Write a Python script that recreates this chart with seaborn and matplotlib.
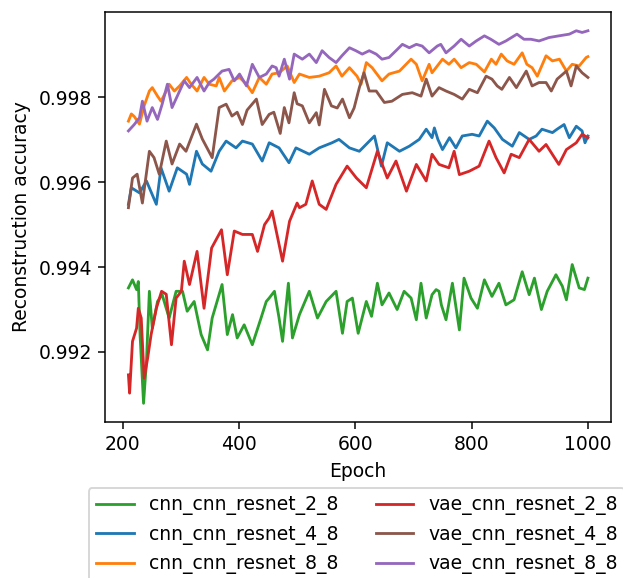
import matplotlib
matplotlib.use("Agg")
import matplotlib.pyplot as plt
import seaborn as sns
import pandas as pd

# values (smoothed reconstruction accuracy)
cnn_2_8_epoch = [210, 217, 224, 227, 230, 236, 241, 246, 251, 260, 268, 280, 292, 303, 311, 323,
                 335, 346, 354, 371, 380, 389, 397, 409, 423, 438, 447, 452, 461, 469, 475, 485,
                 492, 504, 521, 535, 550, 567, 578, 586, 595, 605, 619, 628, 638, 646, 658, 672,
                 684, 696, 705, 713, 722, 732, 739, 744, 748, 756, 767, 779, 787, 799, 810, 822,
                 835, 847, 859, 873, 887, 899, 908, 920, 930, 945, 956, 963, 973, 985, 994, 1000]
cnn_2_8_acc = [0.99351, 0.99370, 0.99347, 0.99366, 0.99241, 0.99079, 0.99178, 0.99343, 0.99256,
               0.99319, 0.99335, 0.99280, 0.99343, 0.99343, 0.99296, 0.99319, 0.99241, 0.99205,
               0.99280, 0.99359, 0.99241, 0.99288, 0.99233, 0.99264, 0.99217, 0.99280, 0.99319,
               0.99327, 0.99343, 0.99280, 0.99225, 0.99362, 0.99233, 0.99288, 0.99343, 0.99280,
               0.99319, 0.99343, 0.99244, 0.99319, 0.99327, 0.99244, 0.99319, 0.99284, 0.99362,
               0.99311, 0.99339, 0.99300, 0.99343, 0.99327, 0.99276, 0.99362, 0.99280, 0.99335,
               0.99347, 0.99343, 0.99311, 0.99276, 0.99362, 0.99252, 0.99374, 0.99327, 0.99303,
               0.99370, 0.99331, 0.99362, 0.99311, 0.99323, 0.99389, 0.99335, 0.99374, 0.99300,
               0.99343, 0.99382, 0.99355, 0.99323, 0.99406, 0.99351, 0.99347, 0.99374]

cnn_4_8_epoch = [210, 215, 229, 241, 258, 266, 280, 294, 310, 315, 327, 337, 352, 366, 378, 395,
                 406, 423, 440, 452, 469, 486, 498, 521, 538, 560, 572, 590, 607, 633, 645, 655,
                 676, 693, 710, 722, 732, 736, 742, 750, 762, 773, 784, 801, 813, 827, 839, 853,
                 870, 882, 899, 911, 921, 939, 947, 959, 968, 980, 990, 995, 1000]
cnn_4_8_acc = [0.99548, 0.99587, 0.99575, 0.99603, 0.99548, 0.99634, 0.99579, 0.99634, 0.99619,
               0.99595, 0.99673, 0.99643, 0.99626, 0.99673, 0.99697, 0.99681, 0.99697, 0.99690,
               0.99650, 0.99693, 0.99681, 0.99646, 0.99681, 0.99666, 0.99681, 0.99693, 0.99701,
               0.99681, 0.99673, 0.99709, 0.99638, 0.99693, 0.99673, 0.99685, 0.99701, 0.99725,
               0.99705, 0.99728, 0.99701, 0.99677, 0.99705, 0.99681, 0.99709, 0.99713, 0.99709,
               0.99744, 0.99728, 0.99701, 0.99685, 0.99717, 0.99701, 0.99709, 0.99725, 0.99717,
               0.99725, 0.99736, 0.99705, 0.99732, 0.99721, 0.99693, 0.99709]

cnn_8_8_epoch = [210, 215, 220, 229, 237, 246, 251, 260, 266, 275, 280, 289, 298, 310, 318, 328,
                 340, 349, 361, 366, 375, 388, 401, 413, 423, 435, 447, 457, 469, 483, 495, 504,
                 521, 538, 555, 567, 577, 590, 603, 610, 619, 629, 646, 658, 676, 696, 705, 715,
                 727, 732, 750, 761, 770, 782, 796, 808, 822, 834, 842, 851, 861, 873, 887, 895,
                 904, 913, 928, 939, 951, 963, 973, 985, 997, 1000]
cnn_8_8_acc = [0.99744, 0.99761, 0.99755, 0.99737, 0.99780, 0.99815, 0.99823, 0.99803, 0.99791,
               0.99815, 0.99831, 0.99815, 0.99827, 0.99847, 0.99831, 0.99815, 0.99847, 0.99831,
               0.99827, 0.99847, 0.99815, 0.99839, 0.99847, 0.99831, 0.99811, 0.99847, 0.99831,
               0.99855, 0.99858, 0.99874, 0.99835, 0.99855, 0.99847, 0.99850, 0.99858, 0.99874,
               0.99850, 0.99870, 0.99850, 0.99831, 0.99882, 0.99870, 0.99839, 0.99855, 0.99862,
               0.99890, 0.99878, 0.99839, 0.99878, 0.99858, 0.99890, 0.99878, 0.99890, 0.99870,
               0.99882, 0.99878, 0.99860, 0.99890, 0.99878, 0.99902, 0.99886, 0.99878, 0.99905,
               0.99878, 0.99870, 0.99850, 0.99898, 0.99886, 0.99890, 0.99862, 0.99878, 0.99874,
               0.99894, 0.99896]

vae_2_8_epoch = [210, 212, 217, 224, 227, 232, 237, 243, 249, 258, 267, 275, 284, 292, 301, 306,
                 315, 328, 340, 353, 370, 380, 392, 406, 423, 432, 444, 452, 457, 475, 487, 500,
                 504, 515, 526, 538, 550, 567, 586, 602, 619, 638, 655, 670, 688, 705, 722, 732,
                 744, 761, 770, 779, 796, 813, 830, 842, 856, 868, 882, 899, 916, 928, 950, 963,
                 980, 990, 1000]
vae_2_8_acc = [0.99146, 0.99103, 0.99225, 0.99256, 0.99303, 0.99280, 0.99138, 0.99185, 0.99241,
               0.99303, 0.99343, 0.99336, 0.99217, 0.99327, 0.99343, 0.99414, 0.99359, 0.99437,
               0.99303, 0.99445, 0.99488, 0.99382, 0.99485, 0.99477, 0.99477, 0.99437, 0.99500,
               0.99516, 0.99532, 0.99414, 0.99508, 0.99551, 0.99540, 0.99548, 0.99603, 0.99548,
               0.99536, 0.99595, 0.99638, 0.99610, 0.99587, 0.99673, 0.99610, 0.99650, 0.99579,
               0.99642, 0.99603, 0.99666, 0.99642, 0.99634, 0.99673, 0.99618, 0.99626, 0.99638,
               0.99697, 0.99658, 0.99622, 0.99666, 0.99658, 0.99701, 0.99673, 0.99689, 0.99642,
               0.99677, 0.99693, 0.99713, 0.99705]

vae_4_8_epoch = [210, 217, 225, 234, 246, 254, 263, 275, 285, 298, 309, 327, 337, 354, 366, 378,
                 388, 397, 406, 414, 430, 440, 448, 452, 460, 471, 478, 486, 495, 500, 509, 521,
                 533, 538, 547, 559, 569, 578, 590, 598, 607, 615, 624, 636, 650, 663, 681, 698,
                 713, 722, 732, 744, 756, 770, 784, 796, 810, 825, 835, 844, 852, 865, 877, 894,
                 904, 916, 928, 937, 947, 963, 971, 980, 990, 1000]
vae_4_8_acc = [0.99540, 0.99610, 0.99619, 0.99551, 0.99673, 0.99658, 0.99619, 0.99697, 0.99643,
               0.99690, 0.99673, 0.99737, 0.99702, 0.99658, 0.99776, 0.99784, 0.99756, 0.99765,
               0.99736, 0.99770, 0.99796, 0.99736, 0.99752, 0.99760, 0.99765, 0.99715, 0.99776,
               0.99740, 0.99811, 0.99785, 0.99780, 0.99740, 0.99764, 0.99735, 0.99819, 0.99780,
               0.99775, 0.99796, 0.99752, 0.99775, 0.99823, 0.99858, 0.99815, 0.99815, 0.99788,
               0.99791, 0.99807, 0.99811, 0.99803, 0.99843, 0.99803, 0.99823, 0.99815, 0.99807,
               0.99796, 0.99819, 0.99811, 0.99850, 0.99843, 0.99827, 0.99819, 0.99847, 0.99823,
               0.99862, 0.99827, 0.99835, 0.99835, 0.99815, 0.99843, 0.99862, 0.99827, 0.99874,
               0.99858, 0.99847]

vae_8_8_epoch = [210, 220, 229, 234, 242, 251, 260, 268, 277, 285, 298, 306, 315, 328, 340, 349,
                 357, 371, 383, 392, 401, 413, 423, 435, 447, 457, 464, 469, 478, 487, 495, 509,
                 521, 533, 543, 555, 567, 577, 590, 601, 612, 624, 636, 646, 658, 670, 681, 693,
                 705, 715, 727, 741, 747, 756, 770, 782, 796, 808, 822, 833, 847, 859, 878, 890,
                 902, 916, 933, 950, 968, 980, 990, 1000]
vae_8_8_acc = [0.99721, 0.99736, 0.99752, 0.99791, 0.99744, 0.99776, 0.99748, 0.99784, 0.99831,
               0.99776, 0.99815, 0.99839, 0.99823, 0.99847, 0.99815, 0.99835, 0.99843, 0.99862,
               0.99866, 0.99839, 0.99855, 0.99827, 0.99878, 0.99847, 0.99855, 0.99874, 0.99870,
               0.99850, 0.99890, 0.99843, 0.99902, 0.99890, 0.99902, 0.99882, 0.99910, 0.99894,
               0.99882, 0.99898, 0.99917, 0.99910, 0.99902, 0.99910, 0.99902, 0.99890, 0.99894,
               0.99910, 0.99925, 0.99917, 0.99925, 0.99921, 0.99905, 0.99921, 0.99925, 0.99905,
               0.99921, 0.99937, 0.99921, 0.99933, 0.99945, 0.99937, 0.99925, 0.99933, 0.99949,
               0.99937, 0.99937, 0.99933, 0.99941, 0.99945, 0.99949, 0.99957, 0.99953, 0.99957]

series = [
    ("cnn_cnn_resnet_2_8", cnn_2_8_epoch, cnn_2_8_acc, "tab:green"),
    ("cnn_cnn_resnet_4_8", cnn_4_8_epoch, cnn_4_8_acc, "tab:blue"),
    ("cnn_cnn_resnet_8_8", cnn_8_8_epoch, cnn_8_8_acc, "tab:orange"),
    ("vae_cnn_resnet_2_8", vae_2_8_epoch, vae_2_8_acc, "tab:red"),
    ("vae_cnn_resnet_4_8", vae_4_8_epoch, vae_4_8_acc, "tab:brown"),
    ("vae_cnn_resnet_8_8", vae_8_8_epoch, vae_8_8_acc, "tab:purple"),
]

fig = plt.figure(figsize=(624 / 135, 578 / 135), dpi=135)
ax = fig.add_axes([0.169, 0.270, 0.810, 0.709])

for name, ep, acc, col in series:
    df = pd.DataFrame({"Epoch": ep, "acc": acc})
    sns.lineplot(data=df, x="Epoch", y="acc", color=col, label=name, linewidth=1.5, ax=ax)

ax.set_xlabel("Epoch")
ax.set_ylabel("Reconstruction accuracy")
ax.ticklabel_format(axis="y", useOffset=False)
ax.set_xticks([200, 400, 600, 800, 1000])
ax.set_yticks([0.992, 0.994, 0.996, 0.998])

# legend sits below the axes and runs off the figure edge, as in the original
ax.legend(ncol=2, loc="upper left", bbox_to_anchor=(0.142, 0.156),
          bbox_transform=fig.transFigure, borderaxespad=0.)

fig.savefig("out.png", dpi=135)
